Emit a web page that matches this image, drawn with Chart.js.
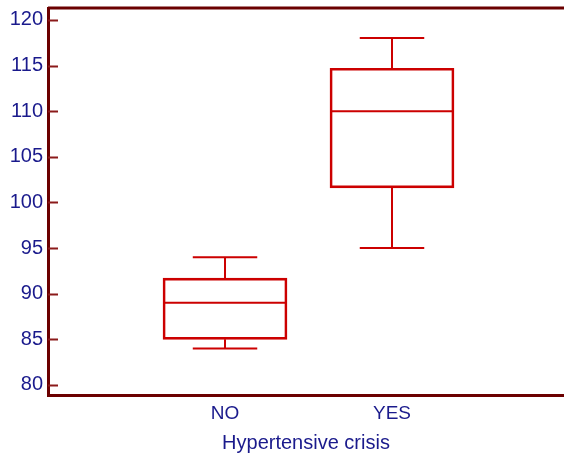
<!DOCTYPE html>
<html>
<head>
<meta charset="utf-8">
<script src="https://cdn.jsdelivr.net/npm/chart.js@4"></script>
<style>
  html, body { margin: 0; padding: 0; background: #fff; }
  #wrap { width: 564px; height: 459px; position: relative; }
</style>
</head>
<body>
<div id="wrap"><canvas id="box"></canvas></div>
<script>
// box plot values
const categories = ['NO', 'YES'];
const whiskerLow = [84, 95];
const quart1 = [85, 101.6];
const medians = [89, 110];
const quart3 = [91.7, 114.7];
const whiskerHigh = [94, 118];
const yTicks = [80, 85, 90, 95, 100, 105, 110, 115, 120];

const boxRed = '#cc0000';
const axisDark = '#6b0000';
const labelBlue = '#1a1a8c';

// median line, whiskers, inward ticks and top frame line
const boxExtras = {
    id: 'boxExtras',
    afterDatasetsDraw(chart) {
        const ctx = chart.ctx;
        const x = chart.scales.x;
        const y = chart.scales.y;
        const meta = chart.getDatasetMeta(0);
        const area = chart.chartArea;
        ctx.save();
        ctx.strokeStyle = boxRed;
        ctx.lineWidth = 2;
        categories.forEach(function (c, i) {
            const bar = meta.data[i];
            const cx = x.getPixelForValue(i + 1);
            const half = bar.width / 2;
            const cap = bar.width * 0.26;
            ctx.beginPath();
            // median
            ctx.moveTo(cx - half, y.getPixelForValue(medians[i]));
            ctx.lineTo(cx + half, y.getPixelForValue(medians[i]));
            // upper whisker
            ctx.moveTo(cx, y.getPixelForValue(quart3[i]));
            ctx.lineTo(cx, y.getPixelForValue(whiskerHigh[i]));
            ctx.moveTo(cx - cap, y.getPixelForValue(whiskerHigh[i]));
            ctx.lineTo(cx + cap, y.getPixelForValue(whiskerHigh[i]));
            // lower whisker
            ctx.moveTo(cx, y.getPixelForValue(quart1[i]));
            ctx.lineTo(cx, y.getPixelForValue(whiskerLow[i]));
            ctx.moveTo(cx - cap, y.getPixelForValue(whiskerLow[i]));
            ctx.lineTo(cx + cap, y.getPixelForValue(whiskerLow[i]));
            ctx.stroke();
        });
        // tick marks pointing inside
        ctx.strokeStyle = '#8b1a1a';
        ctx.lineWidth = 2;
        ctx.beginPath();
        y.ticks.forEach(function (t) {
            const py = Math.round(y.getPixelForValue(t.value)) + 0.5;
            ctx.moveTo(area.left, py);
            ctx.lineTo(area.left + 10, py);
        });
        ctx.stroke();
        // top frame
        ctx.strokeStyle = axisDark;
        ctx.lineWidth = 3;
        ctx.beginPath();
        ctx.moveTo(area.left, area.top);
        ctx.lineTo(area.right, area.top);
        ctx.stroke();
        ctx.restore();
    }
};

new Chart(document.getElementById('box'), {
    type: 'bar',
    data: {
        datasets: [{
            data: categories.map(function (c, i) { return { x: i + 1, y: [quart1[i], quart3[i]] }; }),
            backgroundColor: 'rgba(0,0,0,0)',
            borderColor: boxRed,
            borderWidth: 2,
            borderSkipped: false,
            barThickness: 124
        }]
    },
    options: {
        responsive: true,
        maintainAspectRatio: false,
        animation: false,
        events: [],
        layout: { padding: { top: 8, right: 0, left: 0, bottom: 0 } },
        plugins: {
            legend: { display: false },
            tooltip: { enabled: false }
        },
        scales: {
            x: {
                type: 'linear',
                offset: false,
                min: -0.06,
                max: 3.03,
                afterBuildTicks: function (scale) {
                    scale.ticks = categories.map(function (c, i) { return { value: i + 1 }; });
                },
                afterFit: function (scale) {
                    scale.height = 64;
                    scale.paddingLeft = 0;
                    scale.paddingRight = 0;
                },
                ticks: {
                    color: labelBlue,
                    font: { family: 'Liberation Sans', size: 19 },
                    padding: 7,
                    maxRotation: 0,
                    callback: function (v) { return categories[v - 1]; }
                },
                grid: { display: true, offset: false, drawOnChartArea: false, drawTicks: false },
                border: { color: axisDark, width: 3 },
                title: {
                    display: true,
                    text: 'Hypertensive crisis',
                    color: labelBlue,
                    font: { family: 'Liberation Sans', size: 20 },
                    padding: { top: -2 }
                }
            },
            y: {
                min: 78.9,
                max: 121.3,
                afterBuildTicks: function (scale) {
                    scale.ticks = yTicks.map(function (v) { return { value: v }; });
                },
                afterFit: function (scale) {
                    scale.width = 48;
                    scale.paddingTop = 0;
                    scale.paddingBottom = 0;
                },
                ticks: {
                    color: labelBlue,
                    font: { family: 'Liberation Sans', size: 20 },
                    padding: 5
                },
                grid: { display: true, drawOnChartArea: false, drawTicks: false },
                border: { color: axisDark, width: 3 }
            }
        }
    },
    plugins: [boxExtras]
});
</script>
</body>
</html>
